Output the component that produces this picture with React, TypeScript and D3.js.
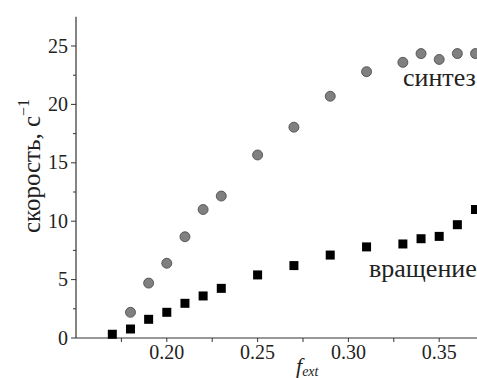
import React from "react";
import * as d3 from "d3";

const W = 477;
const H = 378;

const xSynth = [0.18, 0.19, 0.2, 0.21, 0.22, 0.23, 0.25, 0.27, 0.29, 0.31, 0.33, 0.34, 0.35, 0.36, 0.37];
const ySynth = [2.2, 4.7, 6.4, 8.67, 11.0, 12.15, 15.67, 18.05, 20.7, 22.8, 23.6, 24.35, 23.85, 24.35, 24.35];

const xRot = [0.17, 0.18, 0.19, 0.2, 0.21, 0.22, 0.23, 0.25, 0.27, 0.29, 0.31, 0.33, 0.34, 0.35, 0.36, 0.37];
const yRot = [0.32, 0.77, 1.6, 2.2, 2.97, 3.6, 4.25, 5.4, 6.2, 7.1, 7.8, 8.05, 8.5, 8.7, 9.7, 11.0];

const xTicks = [0.2, 0.25, 0.3, 0.35];
const xMinor = [0.175, 0.2, 0.225, 0.25, 0.275, 0.3, 0.325, 0.35, 0.375];
const yTicks = [0, 5, 10, 15, 20, 25];
const yMinor = [2.5, 7.5, 12.5, 17.5, 22.5];

const FONT = "'Liberation Serif', 'DejaVu Serif', serif";

export default function App() {
  const x = d3.scaleLinear().domain([0.15, 0.375]).range([76, 76 + 0.225 * 1816]);
  const y = d3.scaleLinear().domain([0, 27.5]).range([338, 338 - 27.5 * 11.68]);
  const axisColor = "#333";
  const textColor = "#222";
  const tf = { fontFamily: FONT };
  return (
    <svg
      width={W}
      height={H}
      style={{ position: "absolute", left: 0, top: 0, background: "#fff" }}
    >
      {/* axes */}
      <line x1={x(0.15)} x2={x(0.375)} y1={y(0)} y2={y(0)} stroke={axisColor} strokeWidth={1.2} />
      <line x1={x(0.15)} x2={x(0.15)} y1={y(0)} y2={y(27.5)} stroke={axisColor} strokeWidth={1.2} />
      {xMinor.map((t) => (
        <line key={"xm" + t} x1={x(t)} x2={x(t)} y1={y(0)} y2={y(0) + 4} stroke={axisColor} strokeWidth={1} />
      ))}
      {xTicks.map((t) => (
        <text
          key={"xt" + t}
          x={x(t)}
          y={y(0) + 21}
          textAnchor="middle"
          style={tf}
          fontSize={20}
          fill={textColor}
        >
          {t.toFixed(2)}
        </text>
      ))}
      {yTicks.map((t) => (
        <g key={"yt" + t}>
          <line x1={x(0.15) - 5} x2={x(0.15)} y1={y(t)} y2={y(t)} stroke={axisColor} strokeWidth={1} />
          <text
            x={x(0.15) - 8}
            y={y(t) + 6.5}
            textAnchor="end"
            style={tf}
            fontSize={20}
            fill={textColor}
          >
            {t}
          </text>
        </g>
      ))}
      {yMinor.map((t) => (
        <line key={"ym" + t} x1={x(0.15) - 3} x2={x(0.15)} y1={y(t)} y2={y(t)} stroke={axisColor} strokeWidth={1} />
      ))}

      {/* axis titles */}
      <text
        transform={`translate(40,166) rotate(-90)`}
        textAnchor="middle"
        style={tf}
        fontSize={25}
        fill={textColor}
      >
        скорость, с
        <tspan dy={-11} fontSize={16}>−1</tspan>
      </text>
      <text x={296} y={373} style={tf} fontSize={22} fontStyle="italic" fill={textColor}>
        f
        <tspan dy={3} fontSize={14}>ext</tspan>
      </text>

      {/* data */}
      {xSynth.map((v, i) => (
        <circle key={"c" + i} cx={x(v)} cy={y(ySynth[i])} r={5} fill="#808080" stroke="#444" strokeWidth={0.8} />
      ))}
      {xRot.map((v, i) => (
        <rect key={"s" + i} x={x(v) - 4.5} y={y(yRot[i]) - 4.5} width={9} height={9} fill="#000" />
      ))}

      {/* labels */}
      <text x={403} y={86} style={tf} fontSize={26} fill={textColor}>
        синтез
      </text>
      <text x={369} y={277} style={tf} fontSize={26} fill={textColor}>
        вращение
      </text>
    </svg>
  );
}
